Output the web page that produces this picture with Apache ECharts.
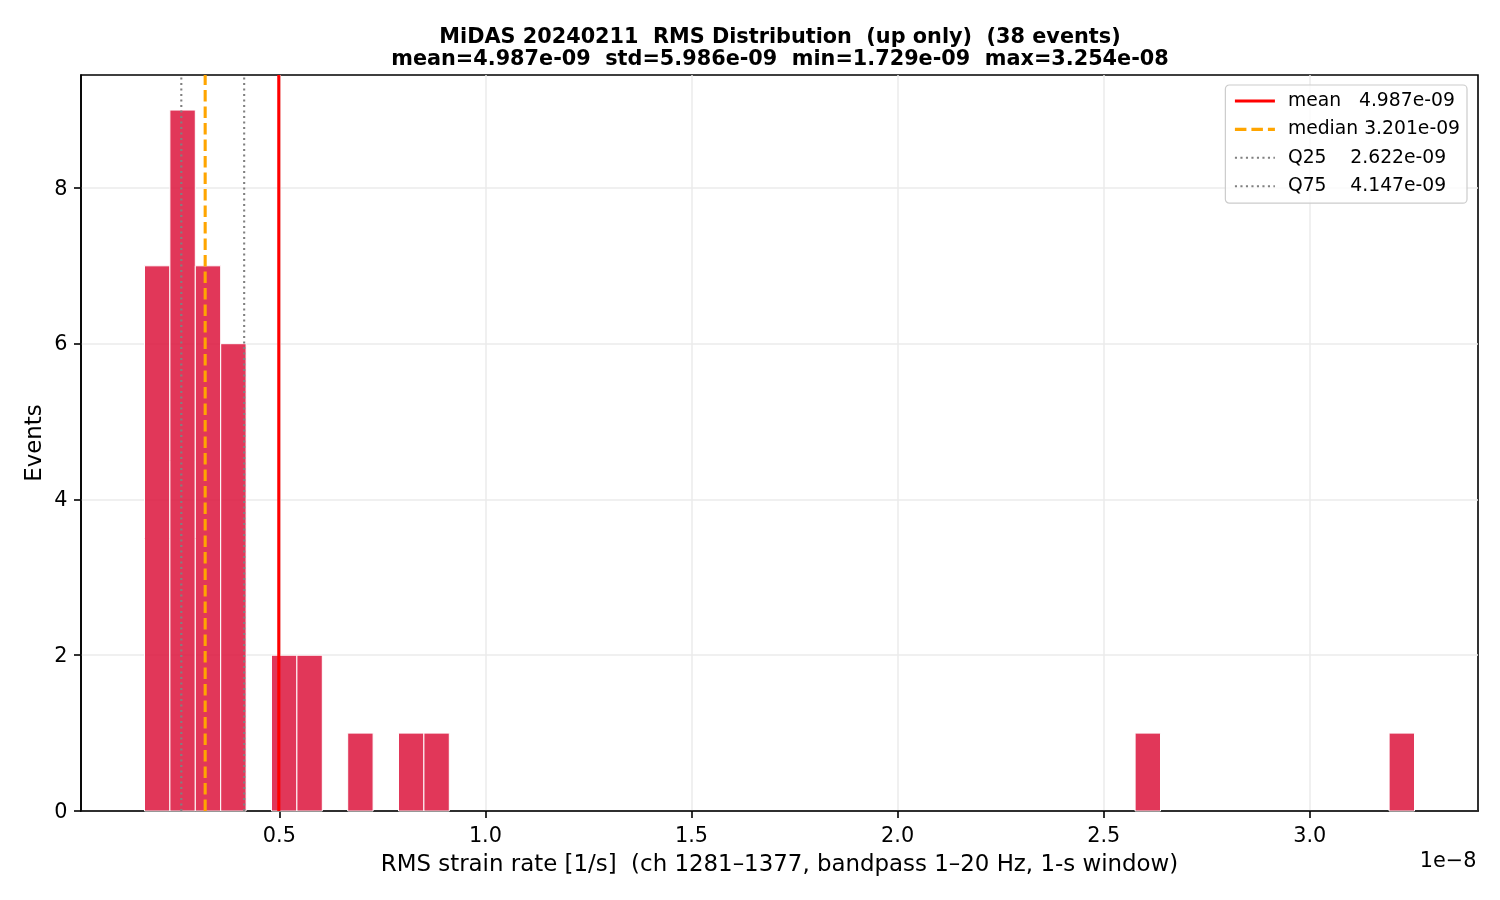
<!DOCTYPE html>
<html>
<head>
<meta charset="utf-8">
<script src="https://cdn.jsdelivr.net/npm/echarts@6/dist/echarts.min.js"></script>
<style>html,body{margin:0;padding:0;background:#fff}#c{width:1500px;height:900px}</style>
</head>
<body>
<div id="c"></div>
<script>
// ---- data (values in 1/s) ----
const histMin = 1.729e-9;
const histMax = 3.254e-8;
const binCounts = [7, 9, 7, 6, 0, 2, 2, 0, 1, 0, 1, 1,
  0, 0, 0, 0, 0, 0, 0, 0, 0, 0, 0, 0, 0, 0, 0, 0, 0, 0, 0, 0, 0, 0, 0, 0, 0, 0, 0,
  1, 0, 0, 0, 0, 0, 0, 0, 0, 0, 1];
const statNames = ['mean   4.987e-09', 'median 3.201e-09', 'Q25    2.622e-09', 'Q75    4.147e-09'];
const statValues = [4.987e-9, 3.201e-9, 2.622e-9, 4.147e-9];
const xTickLabels = [0.5, 1.0, 1.5, 2.0, 2.5, 3.0];
const yTickLabels = [0, 2, 4, 6, 8];
const titleText = 'MiDAS 20240211  RMS Distribution  (up only)  (38 events)\nmean=4.987e-09  std=5.986e-09  min=1.729e-09  max=3.254e-08';

// ---- build ----
const S = 1e8; // display scale (1e-8)
const nBins = binCounts.length;
const w = (histMax - histMin) / nBins;
const barData = [];
binCounts.forEach((c, i) => {
  if (c > 0) barData.push([(histMin + i * w) * S, (histMin + (i + 1) * w) * S, c]);
});
const yMax = 9 * 1.05;
const span = (histMax - histMin) * S;
const xMin = histMin * S - 0.05 * span;
const xMax = histMax * S + 0.05 * span;

const lineStyles = [
  {color: '#ff0000', width: 3.1, type: 'solid'},
  {color: '#ffa500', width: 3.1, type: [11.5, 5]},
  {color: '#808080', width: 2.1, type: [2.1, 3.4]},
  {color: '#808080', width: 2.1, type: [2.1, 3.4]}
];
const font = 'DejaVu Sans';

const series = [{
  type: 'custom',
  data: barData,
  encode: {x: [0, 1], y: 2},
  renderItem: function (params, api) {
    const p0 = api.coord([api.value(0), api.value(2)]);
    const p1 = api.coord([api.value(1), 0]);
    return {
      type: 'rect',
      shape: {x: p0[0], y: p0[1], width: p1[0] - p0[0], height: p1[1] - p0[1]},
      style: {fill: 'rgba(220,20,60,0.85)', stroke: '#ffffff', lineWidth: 1}
    };
  },
  z: 2
}];
statValues.forEach((v, i) => {
  series.push({
    type: 'line',
    name: statNames[i],
    data: [[v * S, 0], [v * S, yMax]],
    symbol: 'none',
    showSymbol: false,
    lineStyle: lineStyles[i],
    itemStyle: {color: lineStyles[i].color},
    z: 3,
    silent: true
  });
});

const chart = echarts.init(document.getElementById('c'), null, {renderer: 'canvas'});
chart.setOption({
  animation: false,
  backgroundColor: '#ffffff',
  textStyle: {fontFamily: font},
  title: {
    text: titleText,
    left: 775,
    top: 22,
    textAlign: 'center',
    textStyle: {fontFamily: font, fontSize: 20.8, fontWeight: 'bold', color: '#000', lineHeight: 22}
  },
  grid: {left: 81, right: 22, top: 75, bottom: 89, show: true, borderColor: '#000', borderWidth: 1.6, backgroundColor: 'transparent'},
  legend: {
    data: statNames.map((n, i) => ({name: n, lineStyle: {width: lineStyles[i].width, type: lineStyles[i].type, color: lineStyles[i].color}})),
    orient: 'vertical',
    right: 33,
    top: 85,
    itemWidth: 40,
    itemHeight: 14,
    itemGap: 9.4,
    padding: [6.5, 7, 7.5, 8],
    borderColor: '#cccccc',
    borderWidth: 1.2,
    borderRadius: 4,
    backgroundColor: 'rgba(255,255,255,0.8)',
    selectedMode: false,
    itemStyle: {opacity: 0},
    textStyle: {fontFamily: font, fontSize: 18.75, lineHeight: 19, color: '#000', padding: [0, 0, 0, 8]}
  },
  xAxis: {
    type: 'value',
    min: xMin,
    max: xMax,
    minInterval: 0.5,
    maxInterval: 0.5,
    name: 'RMS strain rate [1/s]  (ch 1281–1377, bandpass 1–20 Hz, 1-s window)',
    nameLocation: 'middle',
    nameGap: 42.5,
    nameMoveOverlap: false,
    nameTextStyle: {fontFamily: font, fontSize: 22.9, color: '#000'},
    axisLine: {show: true, lineStyle: {color: '#000', width: 1.6}},
    axisTick: {show: true, length: 7, lineStyle: {color: '#000', width: 1.6}, customValues: xTickLabels},
    axisLabel: {show: false},
    splitLine: {show: true, lineStyle: {color: '#ebebeb', width: 1.5}}
  },
  yAxis: {
    type: 'value',
    min: 0,
    max: yMax,
    interval: 2,
    axisLine: {show: true, lineStyle: {color: '#000', width: 1.6}},
    axisTick: {show: true, length: 7, lineStyle: {color: '#000', width: 1.6}, customValues: yTickLabels},
    axisLabel: {show: false},
    splitLine: {show: true, lineStyle: {color: '#ebebeb', width: 1.5}}
  },
  series: series
});

// tick labels placed through the axes' own scales
const gfx = [];
const tickFont = {fontFamily: font, fontSize: 20.8, fill: '#000'};
xTickLabels.forEach(v => {
  const px = chart.convertToPixel({xAxisIndex: 0}, v);
  gfx.push({type: 'text', x: px, y: 836.2, silent: true,
    style: Object.assign({text: v.toFixed(1), align: 'center', verticalAlign: 'middle', textAlign: 'center', textVerticalAlign: 'middle'}, tickFont)});
});
yTickLabels.forEach(v => {
  const py = chart.convertToPixel({yAxisIndex: 0}, v);
  gfx.push({type: 'text', x: 67.4, y: py + 1.4, silent: true,
    style: Object.assign({text: String(v), align: 'right', verticalAlign: 'middle', textAlign: 'right', textVerticalAlign: 'middle'}, tickFont)});
});
gfx.push({type: 'text', x: 34.8, y: 443, rotation: Math.PI / 2, silent: true,
  style: {text: 'Events', fontFamily: font, fontSize: 22.9, fill: '#000', align: 'center', verticalAlign: 'middle', textAlign: 'center', textVerticalAlign: 'middle'}});
gfx.push({type: 'text', x: 1476.4, y: 861.4, silent: true,
  style: Object.assign({text: '1e\u22128', align: 'right', verticalAlign: 'middle', textAlign: 'right', textVerticalAlign: 'middle'}, tickFont)});
chart.setOption({graphic: gfx});
</script>
</body>
</html>
